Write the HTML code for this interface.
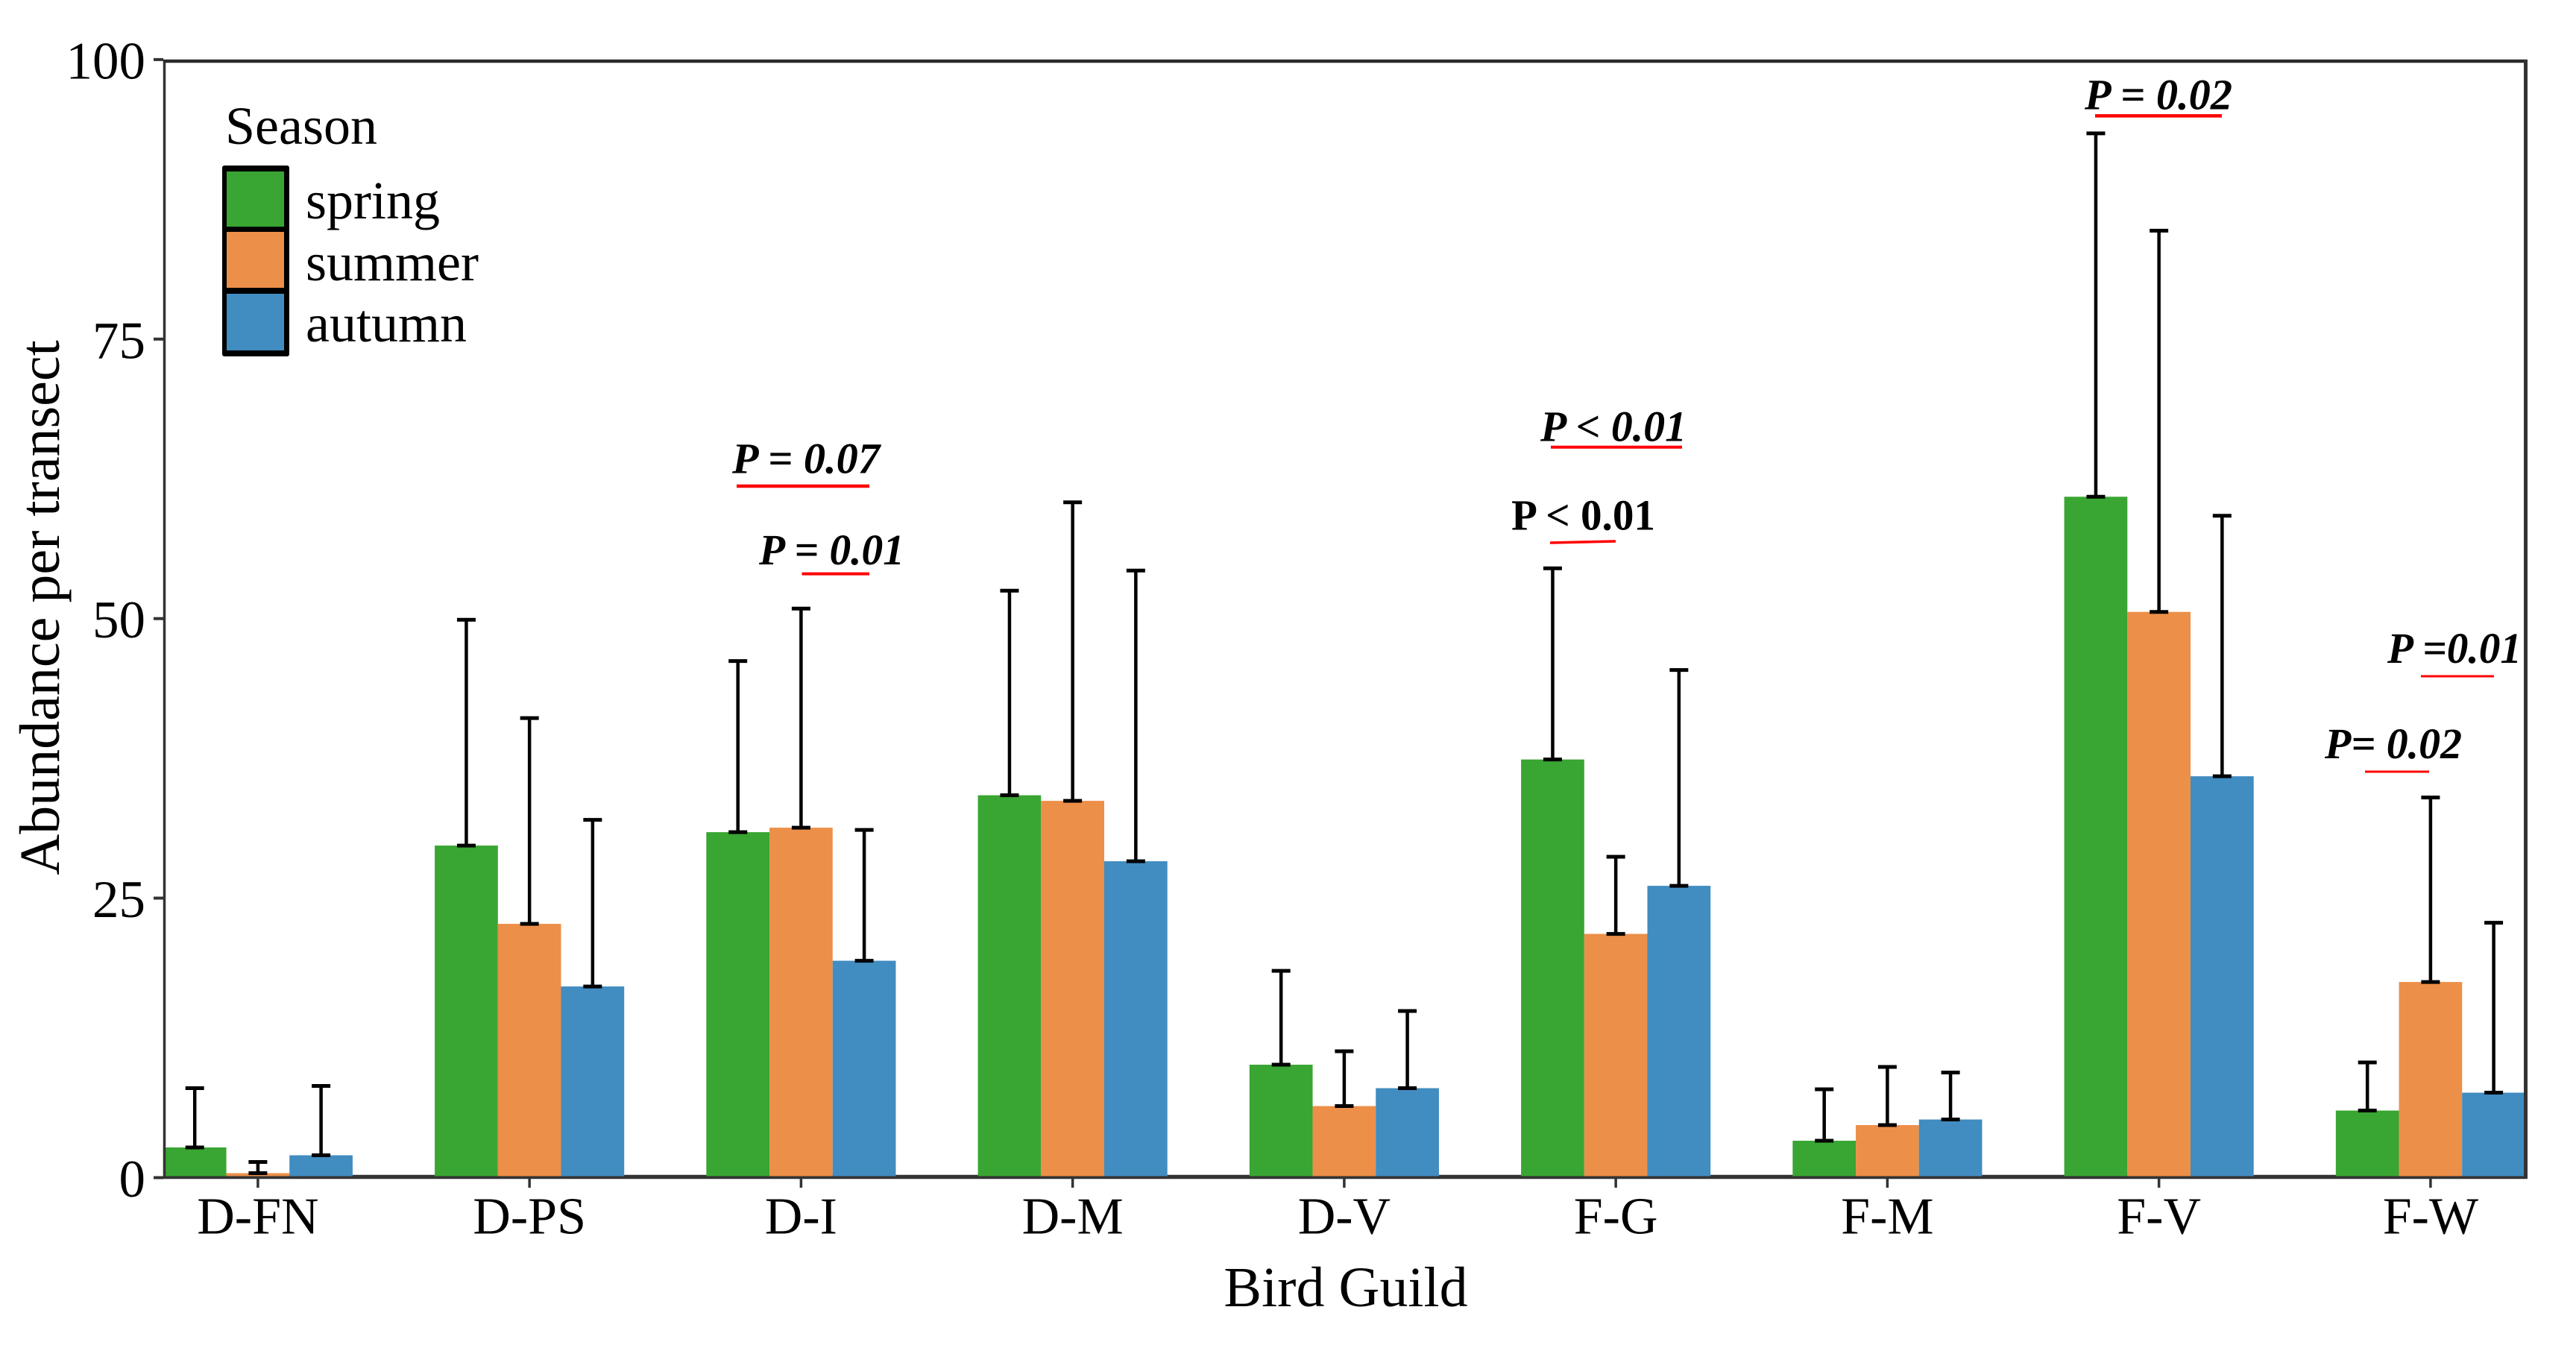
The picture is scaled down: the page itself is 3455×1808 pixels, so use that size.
<!DOCTYPE html>
<html lang="en">
<head>
<meta charset="utf-8">
<title>Abundance per transect by bird guild and season</title>
<style>
html,body{margin:0;padding:0;background:#fff;}
svg{display:block;}
text{font-family:"Liberation Serif",serif;fill:#000;}
.p-note{font-weight:bold;font-style:italic;font-size:58px;}
.p-plain{font-weight:bold;font-size:58px;}
</style>
</head>
<body>
<svg id="chart" xmlns="http://www.w3.org/2000/svg" width="3455" height="1808" viewBox="0 0 3455 1808">
  <rect x="0" y="0" width="3455" height="1808" fill="#fff"/>
  <g id="marks"></g>
  <g id="axes"></g>

  <text transform="translate(79,815) rotate(-90)" text-anchor="middle" font-size="76">Abundance per transect</text>
  <text x="1805" y="1752" text-anchor="middle" font-size="76">Bird Guild</text>

  <g>
    <text x="302" y="193" font-size="72">Season</text>
    <rect x="298" y="222" width="90" height="256" rx="3" fill="#000"/>
    <rect x="304" y="230" width="77" height="74" fill="#39a532"/>
    <rect x="304" y="311" width="77" height="75" fill="#ec8f49"/>
    <rect x="304" y="394" width="77" height="76" fill="#418cc0"/>
    <text x="410" y="293" font-size="72">spring</text>
    <text x="410" y="376" font-size="72">summer</text>
    <text x="410" y="458" font-size="72">autumn</text>
  </g>

  <g>
    <text class="p-note" x="982" y="634.5" textLength="198" lengthAdjust="spacingAndGlyphs">P = 0.07</text>
    <line x1="988" y1="652" x2="1166" y2="652" stroke="#f00" stroke-width="4.5"/>
    <text class="p-note" x="1018" y="757" textLength="195" lengthAdjust="spacingAndGlyphs">P = 0.01</text>
    <line x1="1075.5" y1="769.6" x2="1166" y2="769.6" stroke="#f00" stroke-width="4"/>
    <text class="p-note" x="2066" y="591.7" textLength="196" lengthAdjust="spacingAndGlyphs">P &lt; 0.01</text>
    <line x1="2080" y1="599.7" x2="2256" y2="599.7" stroke="#f00" stroke-width="4"/>
    <text class="p-plain" x="2027" y="710.7" textLength="193" lengthAdjust="spacingAndGlyphs">P &lt; 0.01</text>
    <line x1="2079" y1="728" x2="2167" y2="726" stroke="#f00" stroke-width="3.5"/>
    <text class="p-note" x="2796" y="146.6" textLength="198" lengthAdjust="spacingAndGlyphs">P = 0.02</text>
    <line x1="2810" y1="155.4" x2="2980" y2="155.4" stroke="#f00" stroke-width="4.5"/>
    <text class="p-note" x="3202" y="889" textLength="180" lengthAdjust="spacingAndGlyphs">P =0.01</text>
    <line x1="3247" y1="907" x2="3345" y2="907" stroke="#f00" stroke-width="3"/>
    <text class="p-note" x="3118" y="1017" textLength="184" lengthAdjust="spacingAndGlyphs">P= 0.02</text>
    <line x1="3172" y1="1035" x2="3258" y2="1035" stroke="#f00" stroke-width="3"/>
  </g>
</svg>

<script>
const categories = ['D-FN','D-PS','D-I','D-M','D-V','F-G','F-M','F-V','F-W'];
const yTickValues = [0, 25, 50, 75, 100];
const seasons = ['spring','summer','autumn'];
const springValues = [2.7, 29.7, 30.9, 34.2, 10.1, 37.4, 3.3, 60.9, 6.0];
const summerValues = [0.4, 22.7, 31.3, 33.7, 6.4, 21.8, 4.7, 50.6, 17.5];
const autumnValues = [2.0, 17.1, 19.4, 28.3, 8.0, 26.1, 5.2, 35.9, 7.6];
const springUpper = [8.0, 49.9, 46.2, 52.5, 18.5, 54.5, 7.9, 93.4, 10.3];
const summerUpper = [1.4, 41.1, 50.9, 60.4, 11.3, 28.7, 9.9, 84.7, 34.0];
const autumnUpper = [8.2, 32.0, 31.1, 54.3, 14.9, 45.4, 9.4, 59.2, 22.8];

const NS = 'http://www.w3.org/2000/svg';
const marks = document.getElementById('marks');
const axes = document.getElementById('axes');
const fills = {spring:'#39a532', summer:'#ec8f49', autumn:'#418cc0'};
const seriesValues = {spring:springValues, summer:summerValues, autumn:autumnValues};
const seriesUpper = {spring:springUpper, summer:summerUpper, autumn:autumnUpper};

const barWidth = 84.7;
function yScale(v){ return 1579.5 - v * 14.996; }
function xCenter(i){ return 345.9 + i * 364.25; }
function xBar(i, s){ return xCenter(i) + (s - 1) * barWidth; }

function make(tag, attrs, parent){
  const el = document.createElementNS(NS, tag);
  for (const k in attrs) el.setAttribute(k, attrs[k]);
  parent.appendChild(el);
  return el;
}

/* bottom axis sits under the bars */
const baseLine = make('line', {x1:219, y1:1578.5, x2:3389, y2:1578.5, stroke:'#333', 'stroke-width':5.5}, marks);



seasons.forEach(function(season, s){
  categories.forEach(function(cat, i){
    const v = seriesValues[season][i];
    const cx = xBar(i, s);
    const top = yScale(v);
    const bar = make('rect', {x:cx - barWidth/2, y:top, width:barWidth, height:Math.max(0, yScale(0) - 2 - top), fill:fills[season]}, marks);
    
    
  });
});

seasons.forEach(function(season, s){
  categories.forEach(function(cat, i){
    const v = seriesValues[season][i];
    const u = seriesUpper[season][i];
    const cx = xBar(i, s);
    const stem = make('line', {x1:cx, y1:yScale(v), x2:cx, y2:yScale(u), stroke:'#000', 'stroke-width':4.5}, marks);
    
    
    const capTop = make('line', {x1:cx - 12.5, y1:yScale(u), x2:cx + 12.5, y2:yScale(u), stroke:'#000', 'stroke-width':5}, marks);
    
    
    const capLow = make('line', {x1:cx - 12.5, y1:yScale(v), x2:cx + 12.5, y2:yScale(v), stroke:'#000', 'stroke-width':5}, marks);
    
    
  });
});

/* panel frame */
const leftLine = make('line', {x1:220.5, y1:80, x2:220.5, y2:1581, stroke:'#333', 'stroke-width':3.5}, axes);


const topLine = make('line', {x1:219, y1:82, x2:3390, y2:82, stroke:'#2a2a2a', 'stroke-width':4.5}, axes);


const rightLine = make('line', {x1:3387.5, y1:80, x2:3387.5, y2:1581, stroke:'#333', 'stroke-width':5}, axes);



yTickValues.forEach(function(t){
  const y = yScale(t);
  const tick = make('line', {x1:206, y1:y, x2:219, y2:y, stroke:'#333', 'stroke-width':4}, axes);
  
  
  const label = make('text', {x:195, y:y + 25.5, 'text-anchor':'end', 'font-size':71}, axes);
  label.textContent = String(t);
  
  
});

categories.forEach(function(cat, i){
  const x = xCenter(i);
  const tick = make('line', {x1:x, y1:1581, x2:x, y2:1593, stroke:'#333', 'stroke-width':3.5}, axes);
  
  
  const label = make('text', {x:x, y:1654.3, 'text-anchor':'middle', 'font-size':70}, axes);
  label.textContent = cat;
  
  
});
</script>
</body>
</html>
